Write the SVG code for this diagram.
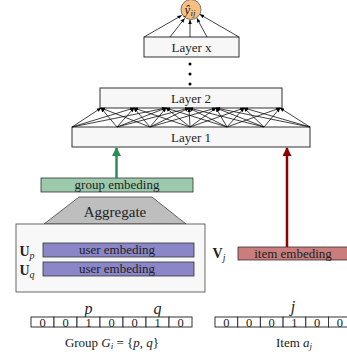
<svg xmlns="http://www.w3.org/2000/svg" width="347" height="362" viewBox="0 0 347 362">
<defs>
<marker id="ah" viewBox="0 0 10 10" refX="9" refY="5" markerWidth="4.5" markerHeight="4.5" orient="auto" markerUnits="userSpaceOnUse"><path d="M0,1 L10,5 L0,9 Z" fill="#000"/></marker>
<marker id="ahg" viewBox="0 0 10 10" refX="9" refY="5" markerWidth="12" markerHeight="9" orient="auto" markerUnits="userSpaceOnUse"><path d="M0,0 L10,5 L0,10 Z" fill="#2E8B57"/></marker>
<marker id="ahr" viewBox="0 0 10 10" refX="9" refY="5" markerWidth="12" markerHeight="9" orient="auto" markerUnits="userSpaceOnUse"><path d="M0,0 L10,5 L0,10 Z" fill="#8B0000"/></marker>
<style>
text{font-family:"Liberation Serif","DejaVu Serif",serif;fill:#222;text-anchor:middle}
.layer{fill:#F7F7F7;stroke:#333;stroke-width:1}
.t13{font-size:13px}
.d{font-size:12.5px}
.cell{fill:#fff;stroke:#333;stroke-width:1}
.ln{stroke:#111;stroke-width:0.8;fill:none;marker-end:url(#ah)}
.it{font-style:italic}
</style>
</defs>
<g id="output">
<circle cx="191" cy="9.5" r="10" fill="#F8BF85" stroke="#555" stroke-width="0.8"/>
<text x="190" y="13.5" font-size="13" class="it">ŷ<tspan font-size="9" dy="2">ij</tspan></text>
</g>
<g id="layer-x">
<rect class="layer" x="144" y="37" width="95" height="20"/>
<text x="191.5" y="51.5" class="t13">Layer x</text>
</g>
<g id="dots">
<circle cx="190" cy="64" r="1.5" fill="#000"/>
<circle cx="190" cy="74" r="1.5" fill="#000"/>
<circle cx="190" cy="84" r="1.5" fill="#000"/>
</g>
<g id="layer-2">
<rect class="layer" x="100" y="88" width="182" height="20"/>
<text x="191" y="102.5" class="t13">Layer 2</text>
</g>
<g id="layer-1">
<rect class="layer" x="72" y="127" width="238" height="20"/>
<text x="191" y="141.5" class="t13">Layer 1</text>
</g>
<g id="group-embedding">
<rect x="41" y="178" width="152" height="14" fill="#9CC9AC" stroke="#333" stroke-width="0.8"/>
<text x="117" y="189" class="t13">group embeding</text>
</g>
<g id="aggregate">
<polygon points="79,197 152,197 186,224 44,224" fill="#BEBEBE" stroke="#444" stroke-width="0.8"/>
<text x="115" y="217" font-size="15">Aggregate</text>
</g>
<g id="user-box">
<rect x="16" y="224" width="189" height="68" fill="#F8F8F8" stroke="#444" stroke-width="0.8"/>
<text x="27" y="256" font-size="14" font-weight="bold">U<tspan font-size="10" font-weight="normal" font-style="italic" dy="3">p</tspan></text>
<text x="27" y="275" font-size="14" font-weight="bold">U<tspan font-size="10" font-weight="normal" font-style="italic" dy="3">q</tspan></text>
<rect x="43" y="243" width="151" height="14" fill="#8A86C8" stroke="#333" stroke-width="0.8"/>
<text x="117" y="254" class="t13">user embeding</text>
<rect x="43" y="262" width="151" height="14" fill="#8A86C8" stroke="#333" stroke-width="0.8"/>
<text x="117" y="273" class="t13">user embeding</text>
</g>
<g id="item-embedding">
<text x="219" y="258" font-size="14" font-weight="bold">V<tspan font-size="10" font-weight="normal" font-style="italic" dy="3">j</tspan></text>
<rect x="238" y="247" width="110" height="13" fill="#CB7C7C" stroke="#333" stroke-width="0.8"/>
<text x="293" y="257.5" class="t13">item embeding</text>
</g>
<g id="group-vector">
<text x="88.5" y="314" font-size="16" class="it">p</text>
<text x="157.5" y="314" font-size="16" class="it">q</text>
<rect class="cell" x="31" y="317" width="23" height="10"/>
<rect class="cell" x="54" y="317" width="23" height="10"/>
<rect class="cell" x="77" y="317" width="23" height="10"/>
<rect class="cell" x="100" y="317" width="23" height="10"/>
<rect class="cell" x="123" y="317" width="23" height="10"/>
<rect class="cell" x="146" y="317" width="23" height="10"/>
<rect class="cell" x="169" y="317" width="23" height="10"/>
<text x="42.5" y="326.5" class="d">0</text>
<text x="65.5" y="326.5" class="d">0</text>
<text x="88.5" y="326.5" class="d">1</text>
<text x="111.5" y="326.5" class="d">0</text>
<text x="134.5" y="326.5" class="d">0</text>
<text x="157.5" y="326.5" class="d">1</text>
<text x="180.5" y="326.5" class="d">0</text>
<text x="112" y="347" class="t13">Group <tspan class="it">G</tspan><tspan class="it" font-size="9" dy="2">i</tspan><tspan dy="-2"> = {</tspan><tspan class="it">p, q</tspan>}</text>
</g>
<g id="item-vector">
<text x="293" y="312" font-size="16" class="it">j</text>
<rect class="cell" x="215" y="317" width="22.7" height="10"/>
<rect class="cell" x="237.7" y="317" width="22.7" height="10"/>
<rect class="cell" x="260.4" y="317" width="22.7" height="10"/>
<rect class="cell" x="283.1" y="317" width="22.7" height="10"/>
<rect class="cell" x="305.8" y="317" width="22.7" height="10"/>
<rect class="cell" x="328.5" y="317" width="22.7" height="10"/>
<text x="226.3" y="326.5" class="d">0</text>
<text x="249" y="326.5" class="d">0</text>
<text x="271.7" y="326.5" class="d">0</text>
<text x="294.4" y="326.5" class="d">1</text>
<text x="317.1" y="326.5" class="d">0</text>
<text x="339.8" y="326.5" class="d">0</text>
<text x="294" y="347" class="t13">Item <tspan class="it">a</tspan><tspan class="it" font-size="9" dy="2">j</tspan></text>
</g>
<g id="connectors">
<line class="ln" x1="144" y1="37" x2="181.5" y2="15.5"/>
<line class="ln" x1="170" y1="37" x2="184.5" y2="18.5"/>
<line class="ln" x1="190" y1="37" x2="190" y2="20"/>
<line class="ln" x1="207" y1="37" x2="197" y2="18.5"/>
<line class="ln" x1="239" y1="37" x2="200" y2="14.5"/>
<line class="ln" x1="72" y1="127" x2="101" y2="108"/>
<line class="ln" x1="72" y1="127" x2="134" y2="108"/>
<line class="ln" x1="72" y1="127" x2="166" y2="108"/>
<line class="ln" x1="117" y1="127" x2="101" y2="108"/>
<line class="ln" x1="117" y1="127" x2="134" y2="108"/>
<line class="ln" x1="117" y1="127" x2="166" y2="108"/>
<line class="ln" x1="117" y1="127" x2="189" y2="108"/>
<line class="ln" x1="150" y1="127" x2="101" y2="108"/>
<line class="ln" x1="150" y1="127" x2="134" y2="108"/>
<line class="ln" x1="150" y1="127" x2="166" y2="108"/>
<line class="ln" x1="150" y1="127" x2="189" y2="108"/>
<line class="ln" x1="150" y1="127" x2="216" y2="108"/>
<line class="ln" x1="190" y1="127" x2="134" y2="108"/>
<line class="ln" x1="190" y1="127" x2="166" y2="108"/>
<line class="ln" x1="190" y1="127" x2="189" y2="108"/>
<line class="ln" x1="190" y1="127" x2="216" y2="108"/>
<line class="ln" x1="190" y1="127" x2="244" y2="108"/>
<line class="ln" x1="227" y1="127" x2="166" y2="108"/>
<line class="ln" x1="227" y1="127" x2="189" y2="108"/>
<line class="ln" x1="227" y1="127" x2="216" y2="108"/>
<line class="ln" x1="227" y1="127" x2="244" y2="108"/>
<line class="ln" x1="227" y1="127" x2="280" y2="108"/>
<line class="ln" x1="264" y1="127" x2="189" y2="108"/>
<line class="ln" x1="264" y1="127" x2="216" y2="108"/>
<line class="ln" x1="264" y1="127" x2="244" y2="108"/>
<line class="ln" x1="264" y1="127" x2="280" y2="108"/>
<line class="ln" x1="310" y1="127" x2="216" y2="108"/>
<line class="ln" x1="310" y1="127" x2="244" y2="108"/>
<line class="ln" x1="310" y1="127" x2="280" y2="108"/>
<line x1="116.5" y1="178" x2="116.5" y2="148" stroke="#2E8B57" stroke-width="2.5" marker-end="url(#ahg)"/>
<line x1="287" y1="247" x2="287" y2="148" stroke="#8B0000" stroke-width="2.5" marker-end="url(#ahr)"/>
</g>
</svg>
